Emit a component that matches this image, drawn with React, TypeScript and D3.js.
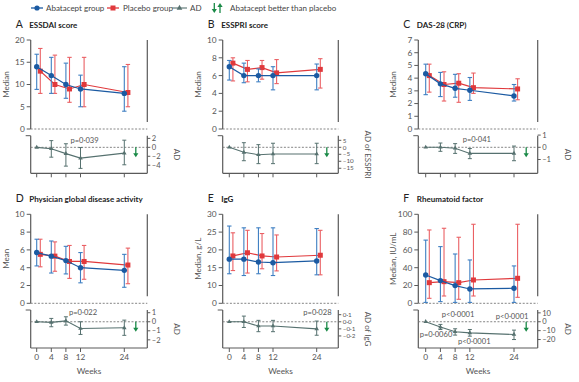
import React from 'react';
import * as d3 from 'd3';

const weeks = [0, 4, 8, 12, 24];

// A – ESSDAI
const essdaiAbaMed = [14, 12, 10, 9, 8];
const essdaiAbaLo = [8.9, 8, 6.9, 5, 4];
const essdaiAbaHi = [16.8, 16.1, 14.8, 12.1, 14];
const essdaiPlaMed = [13, 10, 9, 10, 8.2];
const essdaiPlaLo = [8, 8, 6, 5, 5];
const essdaiPlaHi = [18.1, 16.6, 16.1, 16.1, 14.5];
const essdaiAd = [0, -0.3, -1.4, -2.4, -1.3];
const essdaiAdLo = [0, -2.2, -4.2, -4.7, -3.9];
const essdaiAdHi = [0, 1.5, 0.8, -0.05, 1.6];

// B – ESSPRI
const essapriAbaMed = [7, 6, 6, 6, 6];
const essapriAbaLo = [5.5, 5.2, 5.3, 4.4, 4.4];
const essapriAbaHi = [7.7, 7.4, 6.75, 7, 7.3];
const essapriPlaMed = [7.4, 6.7, 6.9, 6.3, 6.7];
const essapriPlaLo = [5.4, 5.3, 5.6, 5.1, 4.6];
const essapriPlaHi = [8, 7.7, 7.7, 7.8, 7.9];
const essapriAd = [0, -3.6, -5.3, -4.8, -4.8];
const essapriAdLo = [0, -9.6, -11.7, -11.7, -11.7];
const essapriAdHi = [0, 3.3, 1.9, 2.9, 2.9];

// C – DAS-28 (CRP)
const dasAbaMed = [4.35, 3.55, 3.2, 3.05, 2.6];
const dasAbaLo = [2.7, 2.55, 2.5, 2.25, 2.2];
const dasAbaHi = [5.1, 4.45, 4.3, 4.05, 3.5];
const dasPlaMed = [4.2, 3.5, 3.6, 3.25, 3.15];
const dasPlaLo = [2.9, 2.2, 2.1, 2.8, 2.3];
const dasPlaHi = [5.1, 4.5, 4.35, 4.4, 3.95];
const dasAd = [0, 0, -0.08, -0.5, -0.5];
const dasAdLo = [0, -0.33, -0.5, -0.93, -1.1];
const dasAdHi = [0, 0.35, 0.3, -0.1, 0.1];

// D – Physician global disease activity
const phyAbaMed = [5.7, 5.3, 4.8, 4.0, 3.7];
const phyAbaLo = [4.2, 3.4, 3.3, 2.3, 1.8];
const phyAbaHi = [7.2, 7.0, 6.4, 5.7, 5.5];
const phyPlaMed = [5.5, 5.3, 4.7, 4.7, 4.3];
const phyPlaLo = [4.1, 3.6, 2.8, 2.7, 2.2];
const phyPlaHi = [7.2, 6.9, 6.5, 6.5, 6.2];
const phyAd = [0, -0.07, 0.1, -0.74, -0.67];
const phyAdLo = [0, -0.55, -0.37, -1.4, -1.5];
const phyAdHi = [0, 0.37, 0.55, 0, 0.18];

// E – IgG
const iggAbaMed = [17.4, 17.4, 16.6, 16.4, 16.9];
const iggAbaLo = [13.3, 12.8, 13.3, 12.8, 13.0];
const iggAbaHi = [26.7, 26.2, 26.2, 26.2, 26.0];
const iggPlaMed = [18.3, 19.2, 18.3, 18.0, 18.5];
const iggPlaLo = [14.2, 13.5, 14.7, 14.1, 13.0];
const iggPlaHi = [24.8, 25.5, 24.6, 24.2, 25.5];
const iggAd = [0, 0, -0.06, -0.06, -0.1];
const iggAdLo = [0, -0.08, -0.14, -0.14, -0.19];
const iggAdHi = [0, 0.08, 0.02, 0.02, 0.01];

// F – Rheumatoid factor
const rfAbaMed = [31.8, 25.5, 19.9, 16.1, 16.9];
const rfAbaLo = [1, 1.9, 1, 1, 1];
const rfAbaHi = [71, 63.7, 55.4, 48.7, 42];
const rfPlaMed = [23.2, 24.3, 23.2, 26.2, 28.1];
const rfPlaLo = [5.6, 8.2, 4.5, 8.2, 6.7];
const rfPlaHi = [82.4, 84.3, 74.2, 88.8, 88.8];
const rfAd = [0, -6, -11.3, -12.5, -14.3];
const rfAdLo = [0, -8.7, -15, -16.2, -20];
const rfAdHi = [0, -3, -7.9, -8.7, -9.4];

const weekTickLabels = ['0', '4', '8', '12', '24'];

const FONT = "Lato, 'Open Sans', sans-serif";
const BLUE = '#1b5aa2';
const BLUE_ERR = '#3f7fc2';
const RED = '#e0393c';
const RED_ERR = '#ea6064';
const AD_COL = '#56716f';
const GREEN = '#1a8a47';
const AXIS = '#5a5a5a';
const TXT = '#555';

const colLeft = [30.7, 222.7, 418.3];
const colRight = [147.3, 338.3, 537.7];
const colX0 = [36.7, 229.3, 425.7];
const colX24 = [124.3, 316.7, 514];
const rowTop = [40, 214.3];
const rowZero = [129, 303.3];
const rowLowTop = [135.7, 310];
const rowBottom = [173.3, 348];

const fmtNum = (v, dec) => {
  const s = Math.abs(v).toFixed(dec).replace('.', '·');
  return v < -1e-9 ? '–' + s : s;
};

type Series = { med: number[]; lo: number[]; hi: number[] };
type PLabel = { text: string; week: number; val: number };
type PanelCfg = {
  col: number; row: number; letter: string; title: string; yLabel: string;
  yDomain: number[]; yFrac: number[]; yTicks: number[];
  aba: Series; pla: Series; ad: Series;
  adDomain: number[]; adTicks: number[]; adDec: number; adLabel: string;
  pvals: PLabel[];
};

const panels: PanelCfg[] = [
  {
    col: 0, row: 0, letter: 'A', title: 'ESSDAI score', yLabel: 'Median',
    yDomain: [0, 20], yFrac: [0, 1], yTicks: [0, 5, 10, 15, 20],
    aba: { med: essdaiAbaMed, lo: essdaiAbaLo, hi: essdaiAbaHi },
    pla: { med: essdaiPlaMed, lo: essdaiPlaLo, hi: essdaiPlaHi },
    ad: { med: essdaiAd, lo: essdaiAdLo, hi: essdaiAdHi },
    adDomain: [-5.8, 2.6], adTicks: [2, 0, -2, -4], adDec: 0, adLabel: 'AD',
    pvals: [{ text: 'p=0·039', week: 13.1, val: 1.6 }],
  },
  {
    col: 1, row: 0, letter: 'B', title: 'ESSPRI score', yLabel: 'Median',
    yDomain: [0, 10], yFrac: [0, 1], yTicks: [0, 2, 4, 6, 8, 10],
    aba: { med: essapriAbaMed, lo: essapriAbaLo, hi: essapriAbaHi },
    pla: { med: essapriPlaMed, lo: essapriPlaLo, hi: essapriPlaHi },
    ad: { med: essapriAd, lo: essapriAdLo, hi: essapriAdHi },
    adDomain: [-18.6, 8.3], adTicks: [5, 0, -5, -10, -15], adDec: 0, adLabel: 'AD of ESSPRI',
    pvals: [],
  },
  {
    col: 2, row: 0, letter: 'C', title: 'DAS-28 (CRP)', yLabel: 'Median',
    yDomain: [0, 7], yFrac: [0, 1], yTicks: [0, 1, 2, 3, 4, 5, 6, 7],
    aba: { med: dasAbaMed, lo: dasAbaLo, hi: dasAbaHi },
    pla: { med: dasPlaMed, lo: dasPlaLo, hi: dasPlaHi },
    ad: { med: dasAd, lo: dasAdLo, hi: dasAdHi },
    adDomain: [-2.13, 0.95], adTicks: [1, 0, -1], adDec: 0, adLabel: 'AD',
    pvals: [{ text: 'p=0·041', week: 13.9, val: 0.69 }],
  },
  {
    col: 0, row: 1, letter: 'D', title: 'Physician global disease activity', yLabel: 'Mean',
    yDomain: [0, 10], yFrac: [0, 1], yTicks: [0, 2, 4, 6, 8, 10],
    aba: { med: phyAbaMed, lo: phyAbaLo, hi: phyAbaHi },
    pla: { med: phyPlaMed, lo: phyPlaLo, hi: phyPlaHi },
    ad: { med: phyAd, lo: phyAdLo, hi: phyAdHi },
    adDomain: [-2.9, 1.3], adTicks: [1, 0, -1, -2], adDec: 0, adLabel: 'AD',
    pvals: [{ text: 'p=0·022', week: 12.7, val: 1.04 }],
  },
  {
    col: 1, row: 1, letter: 'E', title: 'IgG', yLabel: 'Median, g/L',
    yDomain: [0, 10, 30], yFrac: [0, 0.2, 1], yTicks: [0, 10, 15, 20, 25, 30],
    aba: { med: iggAbaMed, lo: iggAbaLo, hi: iggAbaHi },
    pla: { med: iggPlaMed, lo: iggPlaLo, hi: iggPlaHi },
    ad: { med: iggAd, lo: iggAdLo, hi: iggAdHi },
    adDomain: [-0.37, 0.166], adTicks: [0.1, 0, -0.1, -0.2], adDec: 1, adLabel: 'AD of IgG',
    pvals: [{ text: 'p=0·028', week: 24.2, val: 0.13 }],
  },
  {
    col: 2, row: 1, letter: 'F', title: 'Rheumatoid factor', yLabel: 'Median, IU/mL',
    yDomain: [0, 100], yFrac: [0, 1], yTicks: [0, 20, 40, 60, 80, 100],
    aba: { med: rfAbaMed, lo: rfAbaLo, hi: rfAbaHi },
    pla: { med: rfPlaMed, lo: rfPlaLo, hi: rfPlaHi },
    ad: { med: rfAd, lo: rfAdLo, hi: rfAdHi },
    adDomain: [-29.5, 13.2], adTicks: [10, 0, -10, -20], adDec: 0, adLabel: 'AD',
    pvals: [
      { text: 'p<0·0001', week: 8.8, val: 8.3 },
      { text: 'p=0·0060', week: 2.8, val: -13.6 },
      { text: 'p<0·0001', week: 13.2, val: -22 },
      { text: 'p<0·0001', week: 23.5, val: 5.7 },
    ],
  },
];

const RED_DODGE = 3.6;
const CAP = 2.2;

function ErrSeries({ s, x, y, color, errColor, dx, marker }) {
  const line = d3.line<number>().x((_, i) => x(weeks[i]) + dx).y((d) => y(d));
  return (
    <g>
      {weeks.map((w, i) => {
        const cx = x(w) + dx;
        return (
          <g key={'e' + i} stroke={errColor} strokeWidth={1.1}>
            <line x1={cx} x2={cx} y1={y(s.lo[i])} y2={y(s.hi[i])} />
            <line x1={cx - CAP} x2={cx + CAP} y1={y(s.lo[i])} y2={y(s.lo[i])} />
            <line x1={cx - CAP} x2={cx + CAP} y1={y(s.hi[i])} y2={y(s.hi[i])} />
          </g>
        );
      })}
      <path d={line(s.med) || ''} fill="none" stroke={color} strokeWidth={1.2} />
      {weeks.map((w, i) => {
        const cx = x(w) + dx;
        const cy = y(s.med[i]);
        if (marker === 'circle') return <circle key={'m' + i} cx={cx} cy={cy} r={2.7} fill={color} />;
        return <rect key={'m' + i} x={cx - 2.5} y={cy - 2.5} width={5} height={5} fill={color} />;
      })}
    </g>
  );
}

function Arrow({ x, y1, y2, color }) {
  const dir = y2 > y1 ? 1 : -1;
  return (
    <g>
      <line x1={x} x2={x} y1={y1} y2={y2 - dir * 3} stroke={color} strokeWidth={1.3} />
      <path d={`M${x - 2.6},${y2 - dir * 4} L${x + 2.6},${y2 - dir * 4} L${x},${y2} Z`} fill={color} />
    </g>
  );
}

function Panel({ p }: { p: PanelCfg }) {
  const left = colLeft[p.col];
  const right = colRight[p.col];
  const top = rowTop[p.row];
  const zero = rowZero[p.row];
  const lowTop = rowLowTop[p.row];
  const bottom = rowBottom[p.row];
  const x = d3.scaleLinear().domain([0, 24]).range([colX0[p.col], colX24[p.col]]);
  const y = d3.scaleLinear().domain(p.yDomain).range(p.yFrac.map((f) => zero - f * (zero - top)));
  const ya = d3.scaleLinear().domain(p.adDomain).range([bottom, lowTop]);
  const adLine = d3.line<number>().x((_, i) => x(weeks[i])).y((d) => ya(d));
  const tri = d3.symbol().type(d3.symbolTriangle).size(9)();
  const tickGap = Math.abs(ya(p.adTicks[0]) - ya(p.adTicks[1]));
  const adFont = tickGap < 8.5 ? 6.3 : 7.6;
  return (
    <g fontFamily={FONT}>
      <text x={left - 15} y={top - 12.5} fontSize={10.5} fill="#222">{p.letter}</text>
      <text x={left - 1.5} y={top - 12.5} fontSize={8} fontWeight="bold" fill="#222">{p.title}</text>
      <text transform={`translate(${left - 22},${(top + zero) / 2}) rotate(-90)`} textAnchor="middle" fontSize={8} fill={TXT}>{p.yLabel}</text>
      {/* top panel axes */}
      <line x1={left} x2={left} y1={top} y2={zero} stroke={AXIS} strokeWidth={1.2} />
      {p.yTicks.map((t) => (
        <g key={'yt' + t}>
          <line x1={left - 4} x2={left} y1={y(t)} y2={y(t)} stroke={AXIS} strokeWidth={1} />
          <text x={left - 6} y={y(t)} dy="0.35em" textAnchor="end" fontSize={8.3} fill={TXT}>{t}</text>
        </g>
      ))}
      <line x1={right} x2={right} y1={top} y2={zero - 7} stroke={AXIS} strokeWidth={1.2} />
      <line x1={left} x2={right} y1={zero} y2={zero} stroke="#777" strokeWidth={0.9} strokeDasharray="2,1.6" />
      {/* lower panel axes */}
      <line x1={left - 5} x2={left} y1={lowTop} y2={lowTop} stroke={AXIS} strokeWidth={1} />
      <line x1={left} x2={left} y1={lowTop} y2={bottom} stroke={AXIS} strokeWidth={1.2} />
      <line x1={left} x2={right} y1={bottom} y2={bottom} stroke={AXIS} strokeWidth={1.2} />
      <line x1={right} x2={right} y1={lowTop} y2={bottom} stroke={AXIS} strokeWidth={1.2} />
      {p.adTicks.map((t) => (
        <g key={'at' + t}>
          <line x1={right} x2={right + 3} y1={ya(t)} y2={ya(t)} stroke={AXIS} strokeWidth={1} />
          <text x={right + 4.5} y={ya(t)} dy="0.35em" fontSize={adFont} fill={TXT}>{fmtNum(t, p.adDec)}</text>
        </g>
      ))}
      <text transform={`translate(${right + 27},${(lowTop + bottom) / 2}) rotate(90)`} textAnchor="middle" fontSize={8} fill={TXT}>{p.adLabel}</text>
      <line x1={left} x2={right} y1={ya(0)} y2={ya(0)} stroke="#777" strokeWidth={0.9} strokeDasharray="2,1.6" />
      {weeks.map((w, i) => (
        <g key={'xt' + w}>
          <line x1={x(w)} x2={x(w)} y1={bottom} y2={bottom + 4} stroke={AXIS} strokeWidth={1} />
          {p.row === 1 && (
            <text x={x(w)} y={bottom + 11.5} textAnchor="middle" fontSize={8.3} fill={TXT}>{weekTickLabels[i]}</text>
          )}
        </g>
      ))}
      {p.row === 1 && (
        <text x={(left + right) / 2} y={bottom + 26} textAnchor="middle" fontSize={8.3} fill={TXT}>Weeks</text>
      )}
      {/* series */}
      <ErrSeries s={p.pla} x={x} y={y} color={RED} errColor={RED_ERR} dx={RED_DODGE} marker="square" />
      <ErrSeries s={p.aba} x={x} y={y} color={BLUE} errColor={BLUE_ERR} dx={0} marker="circle" />
      {/* AD */}
      {weeks.map((w, i) => (
        i > 0 ? (
          <g key={'ae' + i} stroke={AD_COL} strokeWidth={1}>
            <line x1={x(w)} x2={x(w)} y1={ya(p.ad.lo[i])} y2={ya(p.ad.hi[i])} />
            <line x1={x(w) - 2} x2={x(w) + 2} y1={ya(p.ad.lo[i])} y2={ya(p.ad.lo[i])} />
            <line x1={x(w) - 2} x2={x(w) + 2} y1={ya(p.ad.hi[i])} y2={ya(p.ad.hi[i])} />
          </g>
        ) : null
      ))}
      <path d={adLine(p.ad.med) || ''} fill="none" stroke={AD_COL} strokeWidth={1.1} />
      {weeks.map((w, i) => (
        <path key={'am' + i} d={tri || ''} transform={`translate(${x(w)},${ya(p.ad.med[i])})`} fill={AD_COL} />
      ))}
      <Arrow x={right - 11.5} y1={ya(0)} y2={ya(0) + 10} color={GREEN} />
      {p.pvals.map((pv, i) => (
        <text key={'pv' + i} x={x(pv.week)} y={ya(pv.val)} dy="0.35em" textAnchor="middle" fontSize={7.6} fill={TXT}>{pv.text}</text>
      ))}
    </g>
  );
}

function Legend() {
  const ly = 8;
  const tri = d3.symbol().type(d3.symbolTriangle).size(14)();
  return (
    <g fontFamily={FONT} fontSize={8} fill="#444">
      <line x1={31} x2={43} y1={ly} y2={ly} stroke={BLUE} strokeWidth={1.3} />
      <circle cx={37} cy={ly} r={2.6} fill={BLUE} />
      <text x={46} y={ly} dy="0.35em">Abatacept group</text>
      <line x1={107} x2={119} y1={ly} y2={ly} stroke={RED} strokeWidth={1.3} />
      <rect x={110.5} y={ly - 2.5} width={5} height={5} fill={RED} />
      <text x={123} y={ly} dy="0.35em">Placebo group</text>
      <line x1={172} x2={187} y1={ly} y2={ly} stroke={AD_COL} strokeWidth={1.1} />
      <path d={tri || ''} transform={`translate(179.5,${ly})`} fill={AD_COL} />
      <text x={190} y={ly} dy="0.35em">AD</text>
      <Arrow x={214.3} y1={3} y2={13} color={GREEN} />
      <Arrow x={220} y1={13} y2={3} color={GREEN} />
      <text x={230} y={ly} dy="0.35em">Abatacept better than placebo</text>
    </g>
  );
}

export default function App() {
  return (
    <svg width={579} height={382} style={{ position: 'absolute', left: 0, top: 0, background: '#fff' }}>
      <rect width={579} height={382} fill="#fff" />
      <Legend />
      {panels.map((p) => <Panel key={p.letter} p={p} />)}
    </svg>
  );
}
